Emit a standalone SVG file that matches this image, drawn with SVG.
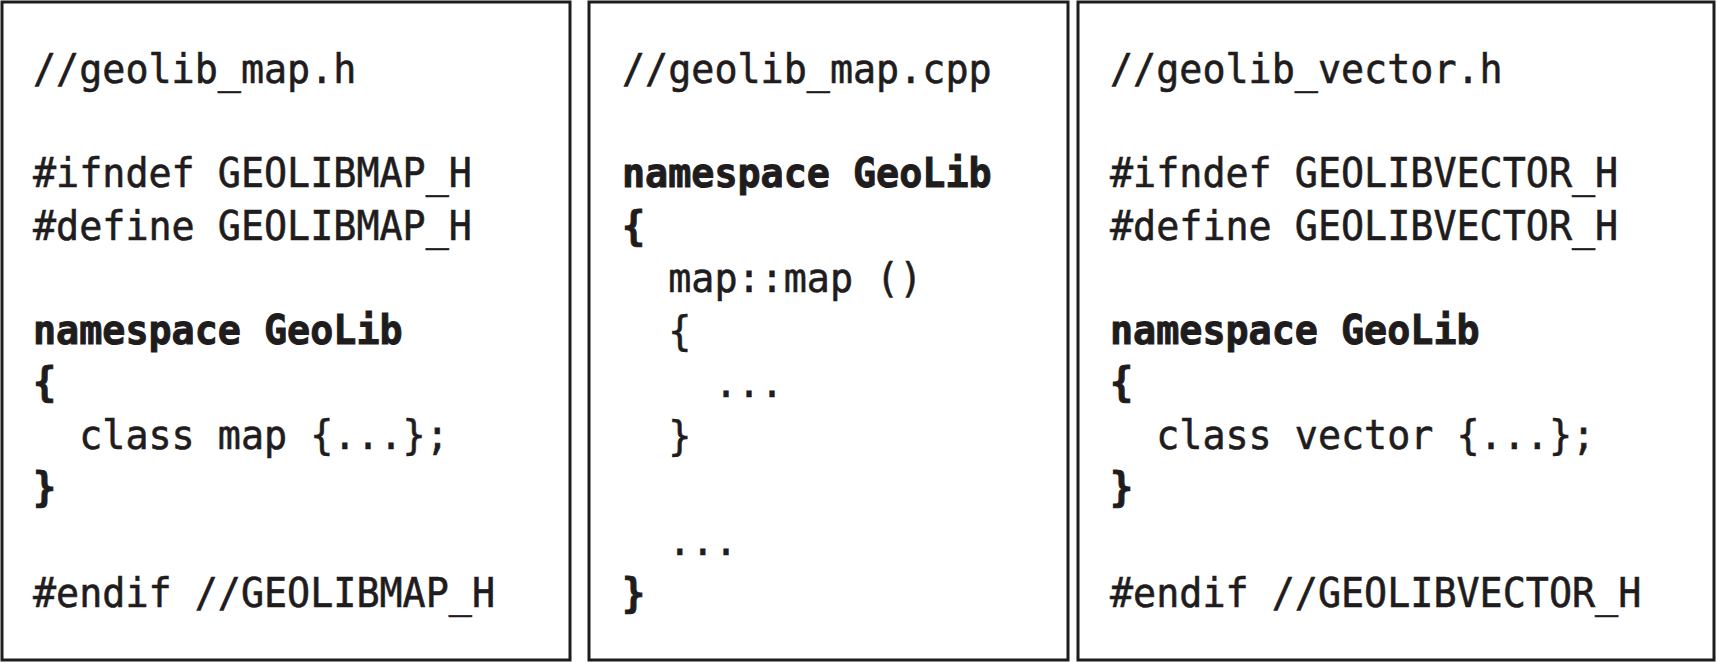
<svg xmlns="http://www.w3.org/2000/svg" width="1717" height="663" viewBox="0 0 1717 663">
<style>
.box{fill:#fff;stroke:#1f1c1d;stroke-width:3}
text{font-family:"DejaVu Sans Mono","Liberation Mono",monospace;font-size:41px;fill:#1f1c1d;stroke:#1f1c1d;stroke-width:0.6}
.b{font-weight:bold;stroke-width:1}
</style>
<rect width="1717" height="663" fill="#fff"/>
<g id="geolib_map_h">
<rect class="box" x="2" y="2" width="568" height="658"/>
<text x="33" y="82.5" textLength="323.4" lengthAdjust="spacingAndGlyphs">//geolib_map.h</text>
<text x="33" y="187.4" textLength="438.9" lengthAdjust="spacingAndGlyphs">#ifndef GEOLIBMAP_H</text>
<text x="33" y="239.9" textLength="438.9" lengthAdjust="spacingAndGlyphs">#define GEOLIBMAP_H</text>
<text class="b" x="33" y="343.8" textLength="369.6" lengthAdjust="spacingAndGlyphs">namespace GeoLib</text>
<text class="b" x="33" y="396.3" textLength="23.1" lengthAdjust="spacingAndGlyphs">{</text>
<text x="79.2" y="448.7" textLength="369.6" lengthAdjust="spacingAndGlyphs">class map {...};</text>
<text class="b" x="33" y="501.2" textLength="23.1" lengthAdjust="spacingAndGlyphs">}</text>
<text x="33" y="607" textLength="462" lengthAdjust="spacingAndGlyphs">#endif //GEOLIBMAP_H</text>
</g>
<g id="geolib_map_cpp">
<rect class="box" x="589" y="2" width="479" height="658"/>
<text x="622" y="82.5" textLength="369.6" lengthAdjust="spacingAndGlyphs">//geolib_map.cpp</text>
<text class="b" x="622" y="187.4" textLength="369.6" lengthAdjust="spacingAndGlyphs">namespace GeoLib</text>
<text class="b" x="622" y="239.9" textLength="23.1" lengthAdjust="spacingAndGlyphs">{</text>
<text x="668.2" y="292.3" textLength="254.1" lengthAdjust="spacingAndGlyphs">map::map ()</text>
<text x="668.2" y="344.8" textLength="23.1" lengthAdjust="spacingAndGlyphs">{</text>
<text x="714.4" y="397.2" textLength="69.3" lengthAdjust="spacingAndGlyphs">...</text>
<text x="668.2" y="449.7" textLength="23.1" lengthAdjust="spacingAndGlyphs">}</text>
<text x="668.2" y="554.6" textLength="69.3" lengthAdjust="spacingAndGlyphs">...</text>
<text class="b" x="622" y="607" textLength="23.1" lengthAdjust="spacingAndGlyphs">}</text>
</g>
<g id="geolib_vector_h">
<rect class="box" x="1078" y="2" width="636" height="658"/>
<text x="1110" y="82.5" textLength="392.7" lengthAdjust="spacingAndGlyphs">//geolib_vector.h</text>
<text x="1110" y="187.4" textLength="508.2" lengthAdjust="spacingAndGlyphs">#ifndef GEOLIBVECTOR_H</text>
<text x="1110" y="239.9" textLength="508.2" lengthAdjust="spacingAndGlyphs">#define GEOLIBVECTOR_H</text>
<text class="b" x="1110" y="343.8" textLength="369.6" lengthAdjust="spacingAndGlyphs">namespace GeoLib</text>
<text class="b" x="1110" y="396.3" textLength="23.1" lengthAdjust="spacingAndGlyphs">{</text>
<text x="1156.2" y="448.7" textLength="438.9" lengthAdjust="spacingAndGlyphs">class vector {...};</text>
<text class="b" x="1110" y="501.2" textLength="23.1" lengthAdjust="spacingAndGlyphs">}</text>
<text x="1110" y="607" textLength="531.3" lengthAdjust="spacingAndGlyphs">#endif //GEOLIBVECTOR_H</text>
</g>
<g id="connectors"/>
</svg>
